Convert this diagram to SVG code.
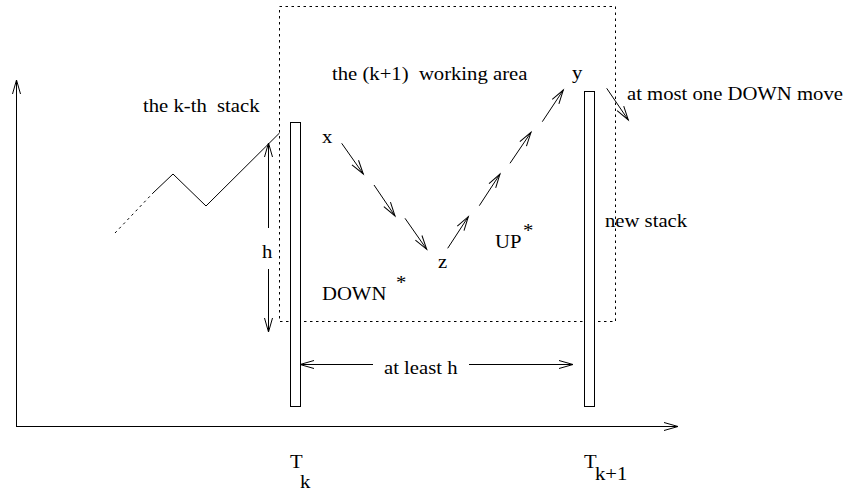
<svg xmlns="http://www.w3.org/2000/svg" width="848" height="496" viewBox="0 0 848 496">
<style>
  .t { font-family: "Liberation Serif", "Times New Roman", serif; font-size: 18px; fill: #000; white-space: pre; }
  .ln { stroke: #000; stroke-width: 1; fill: none; }
  .dot { stroke: #000; stroke-width: 1; fill: none; stroke-dasharray: 2.5 3.5; }
  .arr { stroke: #000; stroke-width: 1; fill: none; marker-end: url(#open); }
  .bar { stroke: #000; stroke-width: 1; fill: #fff; }
</style>
<defs>
  <marker id="open" markerUnits="userSpaceOnUse" markerWidth="20" markerHeight="12" viewBox="-16 -6 18 12" refX="0" refY="0" orient="auto" overflow="visible">
    <path d="M-14,-4 L0,0 L-14,4" fill="none" stroke="#000" stroke-width="1"/>
  </marker>
</defs>
<rect width="848" height="496" fill="#fff"/>

<g id="working-area">
  <rect class="dot" x="279.5" y="6.5" width="336" height="315"/>
  <text class="t" xml:space="preserve" transform="matrix(1.15 0 0 1 332 80)">the (k+1)  working area</text>
</g>

<g id="kth-stack">
  <polyline class="dot" points="115,233 153,193"/>
  <polyline class="ln" points="153,193 173,174 206,206 279.5,133"/>
  <rect class="bar" x="290.5" y="122.5" width="10" height="284"/>
  <text class="t" xml:space="preserve" transform="matrix(1.15 0 0 1 143 112)">the k-th  stack</text>
</g>

<g id="new-stack">
  <rect class="bar" x="584.5" y="91.5" width="10" height="315"/>
  <text class="t" transform="matrix(1.15 0 0 1 605 227)">new stack</text>
</g>

<g id="label-x"><text class="t" transform="matrix(1.15 0 0 1 322 143)">x</text></g>
<g id="label-z"><text class="t" transform="matrix(1.15 0 0 1 438 268)">z</text></g>
<g id="label-y"><text class="t" transform="matrix(1.15 0 0 1 572 79)">y</text></g>
<g id="label-down">
  <text class="t" transform="matrix(1.15 0 0 1 322 300)">DOWN</text>
  <text class="t" transform="matrix(1.15 0 0 1 396 289)">*</text>
</g>
<g id="label-up">
  <text class="t" transform="matrix(1.15 0 0 1 495 248)">UP</text>
  <text class="t" transform="matrix(1.15 0 0 1 523 237)">*</text>
</g>
<g id="label-atmost"><text class="t" transform="matrix(1.15 0 0 1 627 100)">at most one DOWN move</text></g>
<g id="label-h"><text class="t" transform="matrix(1.15 0 0 1 262 258)">h</text></g>
<g id="label-atleast"><text class="t" transform="matrix(1.15 0 0 1 384 374)">at least h</text></g>
<g id="label-Tk">
  <text class="t" transform="matrix(1.15 0 0 1 290 468)">T</text>
  <text class="t" transform="matrix(1.15 0 0 1 300 488)">k</text>
</g>
<g id="label-Tk1">
  <text class="t" transform="matrix(1.15 0 0 1 584 468)">T</text>
  <text class="t" transform="matrix(1.15 0 0 1 595 480)">k+1</text>
</g>

<g id="axes">
  <line class="arr" x1="16.5" y1="427" x2="16.5" y2="80"/>
  <line class="arr" x1="16" y1="426.5" x2="678" y2="426.5"/>
</g>

<g id="connectors">
  <line class="arr" x1="268.5" y1="228" x2="268.5" y2="143"/>
  <line class="arr" x1="268.5" y1="269" x2="268.5" y2="332"/>
  <line class="arr" x1="373" y1="364.5" x2="300" y2="364.5"/>
  <line class="arr" x1="469" y1="364.5" x2="573" y2="364.5"/>
  <line class="arr" x1="341.7" y1="143.3" x2="363.3" y2="174"/>
  <line class="arr" x1="374" y1="185" x2="395" y2="216"/>
  <line class="arr" x1="405" y1="218.3" x2="426.7" y2="249.3"/>
  <line class="arr" x1="447.7" y1="248.3" x2="468.3" y2="216.7"/>
  <line class="arr" x1="479.3" y1="205.7" x2="500" y2="174"/>
  <line class="arr" x1="510" y1="163.3" x2="531" y2="132.3"/>
  <line class="arr" x1="542.3" y1="121.7" x2="563.3" y2="90"/>
  <line class="arr" x1="606.7" y1="88.3" x2="628.3" y2="120"/>
</g>
</svg>
